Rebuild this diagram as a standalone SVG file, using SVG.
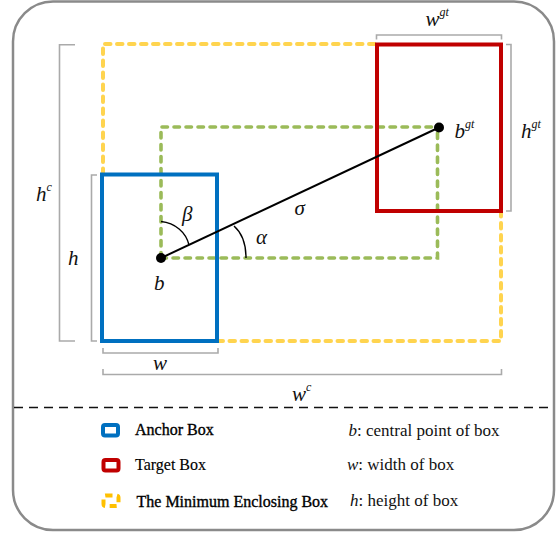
<svg xmlns="http://www.w3.org/2000/svg" width="559" height="536" viewBox="0 0 559 536">
<style>
.frame{fill:#fff;stroke:#8a8a8a;stroke-width:2.5}
.br{fill:none;stroke:#aaaaaa;stroke-width:1.6}
.yel{fill:none;stroke:#ffd44f;stroke-width:4;stroke-dasharray:5.5 6.5;stroke-linecap:round}
.grn{fill:none;stroke:#9bbb59;stroke-width:3.6;stroke-dasharray:5.5 6.5;stroke-linecap:round}
.math{font-family:"Liberation Serif","Times New Roman",serif;font-style:italic;fill:#111;font-size:21px}
.sup{font-size:12px}
.leg{font-family:"Liberation Serif","Times New Roman",serif;font-size:16px;fill:#000}
.def{font-family:"Liberation Serif","Times New Roman",serif;font-size:17px;fill:#111}
.arc{fill:none;stroke:#000;stroke-width:1.4}
</style>
<rect class="frame" x="13" y="1.5" width="541" height="528.5" rx="40" ry="40"/>

<g id="enclosing-box">
<path class="yel" d="M103,174 V44 H376"/>
<path class="yel" d="M501,211 V341 H217"/>
</g>
<g id="distance-rect">
<path class="grn" d="M161,258 V127 H439"/>
<path class="grn" d="M161,258 H437.5 V127"/>
</g>
<g id="anchor-box">
<rect x="102" y="174.5" width="115" height="166.5" fill="none" stroke="#0070c0" stroke-width="4"/>
</g>
<g id="target-box">
<rect x="377" y="44.5" width="124" height="166.5" fill="none" stroke="#c00000" stroke-width="4"/>
</g>

<g id="connectors">
<line x1="161" y1="258" x2="439" y2="127.5" stroke="#000" stroke-width="2"/>
<path class="arc" d="M161,221.5 C175,223 186,232 189,245"/>
<path class="arc" d="M234,226 C242,233 246,245 246,258"/>
</g>

<g id="point-b">
<circle cx="161" cy="258" r="5" fill="#000"/>
<text class="math" x="154" y="290">b</text>
</g>
<g id="point-bgt">
<circle cx="439" cy="127.5" r="5" fill="#000"/>
<text class="math" x="454.5" y="137.5">b<tspan class="sup" dy="-10">gt</tspan></text>
</g>

<g id="angles">
<text class="math" x="182" y="221">β</text>
<text class="math" x="256" y="244">α</text>
<text class="math" x="294.5" y="215">σ</text>
</g>

<g id="brackets">
<path class="br" d="M75,44.7 H59.5 V341 H75"/>
<path class="br" d="M97,175 H91.5 V341 H97"/>
<path class="br" d="M103,348 V353 H218 V348"/>
<path class="br" d="M103,369 V374.5 H501.5 V369"/>
<path class="br" d="M376.5,39.5 V35 H501.5 V39.5"/>
<path class="br" d="M506,44.5 H511 V211 H506"/>
<text class="math" x="36" y="201">h<tspan class="sup" dy="-10">c</tspan></text>
<text class="math" x="68" y="264.5">h</text>
<text class="math" x="153" y="369.5">w</text>
<text class="math" x="292" y="401">w<tspan class="sup" dy="-10">c</tspan></text>
<text class="math" x="425.5" y="25.5">w<tspan class="sup" dy="-10">gt</tspan></text>
<text class="math" x="521" y="137.5">h<tspan class="sup" dy="-10">gt</tspan></text>
</g>

<line x1="14" y1="407.5" x2="553" y2="407.5" stroke="#111" stroke-width="1.4" stroke-dasharray="9 6"/>

<g id="legend">
<rect x="103" y="425" width="15" height="10.5" rx="2" fill="#fff" stroke="#0070c0" stroke-width="4"/>
<text class="leg" x="135" y="434.5" stroke="#000" stroke-width="0.35">Anchor Box</text>
<rect x="103.5" y="460" width="15" height="10.5" rx="2" fill="#fff" stroke="#c00000" stroke-width="4"/>
<text class="leg" x="135" y="470" stroke="#000" stroke-width="0.15">Target Box</text>
<rect x="103.5" y="495.5" width="15" height="10.5" rx="2" fill="none" stroke="#ffc000" stroke-width="4" stroke-dasharray="7 4.5"/>
<text class="leg" x="136.5" y="506.5" stroke="#000" stroke-width="0.35">The Minimum Enclosing Box</text>
<text class="def" x="348.5" y="435.5"><tspan font-style="italic">b</tspan>: central point of box</text>
<text class="def" x="347" y="470"><tspan font-style="italic">w</tspan>: width of box</text>
<text class="def" x="350" y="505.5"><tspan font-style="italic">h</tspan>: height of box</text>
</g>
</svg>
